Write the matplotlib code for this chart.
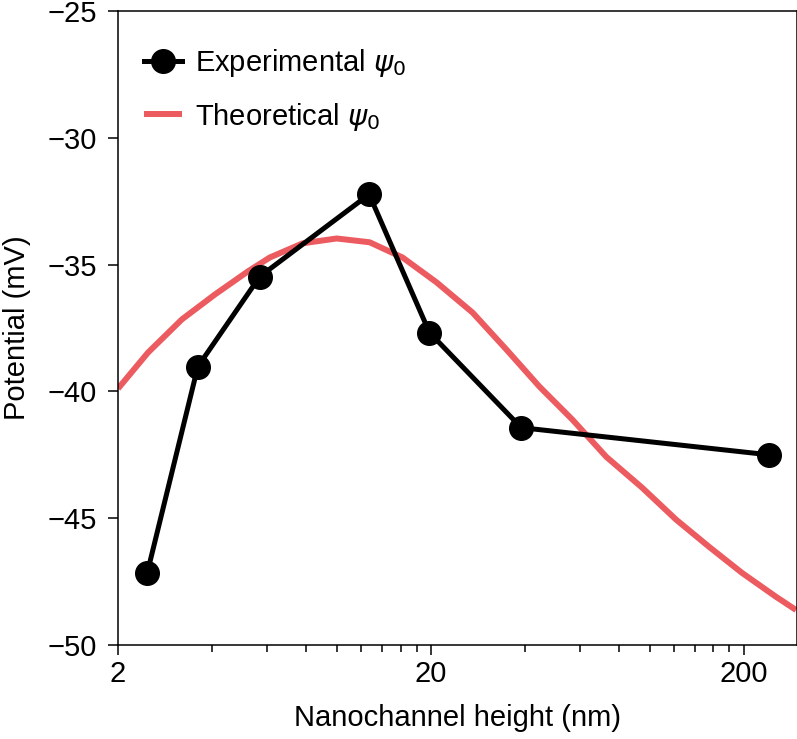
import matplotlib

matplotlib.use("Agg")
import matplotlib.pyplot as plt
from matplotlib.ticker import FixedLocator, NullFormatter

plt.rcParams["font.family"] = ["Liberation Sans", "DejaVu Sans"]
plt.rcParams["mathtext.fontset"] = "dejavusans"

# Experimental surface potential vs nanochannel height
exp_height = [2.48, 3.6, 5.68, 12.7, 19.8, 38.9, 241]
exp_psi = [-47.16, -39.02, -35.47, -32.23, -37.68, -41.43, -42.50]

# Theoretical curve
theo_height = [2.0, 2.494, 3.201, 4.080, 5.200, 6.112, 7.790, 10.0, 12.75,
               16.24, 20.86, 27.18, 34.88, 44.46, 56.66, 72.74, 94.78, 121.7,
               155.1, 197.7, 253.8, 294.0]
theo_psi = [-39.89, -38.47, -37.16, -36.18, -35.27, -34.72, -34.16, -33.97,
            -34.12, -34.72, -35.70, -36.89, -38.35, -39.81, -41.11, -42.58,
            -43.80, -45.06, -46.13, -47.16, -48.10, -48.62]

major_ticks = [2, 20, 200]
minor_ticks = [4, 6, 8, 10, 12, 14, 16, 18, 40, 60, 80, 100, 120, 140, 160, 180]
y_ticks = [-25, -30, -35, -40, -45, -50]

_RED = "#ec5b5f"
_INK = "#000000"
_FS = 21

fig = plt.figure(figsize=(7.97, 7.39), dpi=100)
ax = fig.add_axes([118 / 797, 1 - 645 / 739, (796.5 - 118) / 797, (645 - 11) / 739])

ax.plot(theo_height, theo_psi, color=_RED, linewidth=4.3, solid_capstyle="butt",
        solid_joinstyle="round", label=r"Theoretical $\psi_0$", zorder=2)
ax.plot(exp_height, exp_psi, color=_INK, linewidth=3.6, marker="o", markersize=17,
        label=r"Experimental $\psi_0$", zorder=3)

ax.set_xscale("log")
ax.set_xlim(2, 295)
ax.set_ylim(-50, -25)
ax.xaxis.set_major_locator(FixedLocator(major_ticks))
ax.xaxis.set_minor_locator(FixedLocator(minor_ticks))
ax.xaxis.set_minor_formatter(NullFormatter())
ax.set_xticklabels([str(t) for t in major_ticks])
ax.yaxis.set_major_locator(FixedLocator(y_ticks))
ax.set_yticklabels(["\u2212" + str(abs(t)) for t in y_ticks])

ax.tick_params(axis="both", which="major", direction="out", length=7, width=1.1,
               labelsize=_FS, color=_INK)
ax.tick_params(axis="x", which="minor", direction="out", length=5, width=1.1, color=_INK)
ax.tick_params(axis="y", which="major", pad=8)
ax.tick_params(axis="x", which="major", pad=4)
for spine in ax.spines.values():
    spine.set_linewidth(1.1)

ax.set_xlabel("Nanochannel height (nm)", fontsize=_FS, labelpad=11)
ax.set_ylabel("Potential (mV)", fontsize=_FS, labelpad=12)

handles, labels = ax.get_legend_handles_labels()
ax.legend(handles[::-1], labels[::-1], loc="upper left", bbox_to_anchor=(0.0, 0.985),
          frameon=False, fontsize=_FS, numpoints=1, handlelength=1.3,
          handletextpad=0.45, labelspacing=0.75)

fig.savefig("out.png", dpi=100)
